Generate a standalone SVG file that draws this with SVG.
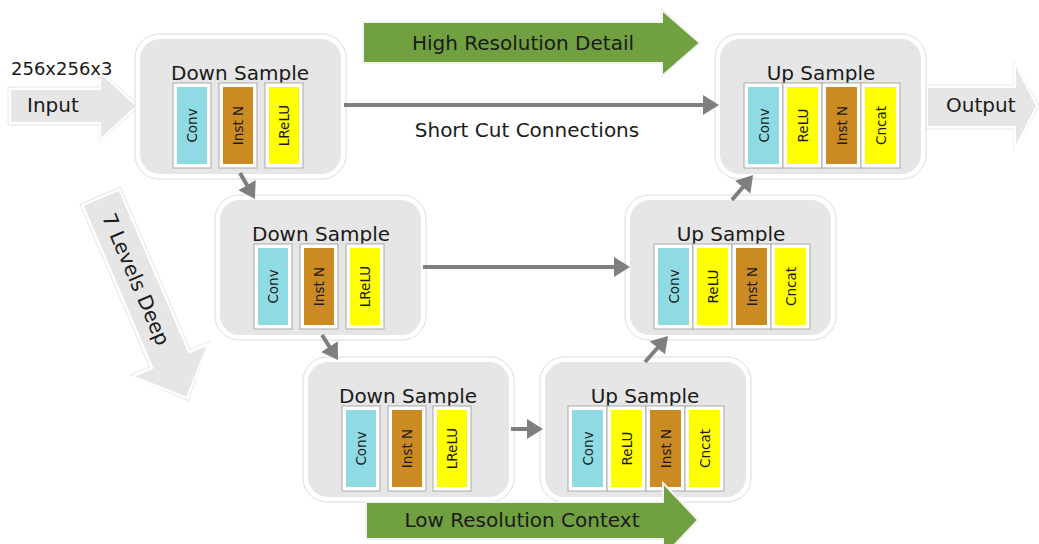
<svg xmlns="http://www.w3.org/2000/svg" width="1039" height="544" viewBox="0 0 1039 544">
<defs>
<style>
text{font-family:"DejaVu Sans","Liberation Sans",sans-serif;fill:#1a1a1a}
.big{font-size:20px}
.sm{font-size:13.5px;text-anchor:middle}
.mid{text-anchor:middle}
.box{fill:#e6e6e6;stroke:#ffffff;stroke-width:4}
.boxo{fill:none;stroke:#dcdcdc;stroke-width:1}
.frm{fill:#ffffff;stroke:#a9a9a9;stroke-width:1}
.conv{fill:#8fdbe3}
.inst{fill:#cc8a22}
.relu{fill:#ffff00}
.garr{fill:#70a040;stroke:#f2f2f2;stroke-width:2}
.larr{fill:#e6e6e6;stroke:#ffffff;stroke-width:2}
.larro{fill:none;stroke:#e6e6e6;stroke-width:1}
.con{stroke:#7f7f7f;stroke-width:4;fill:none;marker-end:url(#ah)}
</style>
<marker id="ah" markerWidth="4" markerHeight="5" refX="1.5" refY="2.5" orient="auto" markerUnits="strokeWidth">
<path d="M0,0 L4,2.5 L0,5 z" fill="#7f7f7f"/>
</marker>
</defs>
<rect width="1039" height="544" fill="#ffffff"/>

<!-- background block arrows -->
<g id="input-arrow">
<polygon class="larro" points="8,87 99,87 99,70 140,106 99,142 99,125 8,125"/>
<polygon class="larr" points="10,89 100,89 100,72 137,106 100,140 100,123 10,123"/>
<text class="big" x="27" y="112">Input</text>
<text x="11" y="75" style="font-size:18px">256x256x3</text>
</g>
<g id="output-arrow">
<polygon class="larro" points="925,85 1014,85 1014,61 1039,106 1014,151 1014,129 925,129"/>
<polygon class="larr" points="927,87 1015,87 1015,63 1037,106 1015,149 1015,127 927,127"/>
<text class="big" x="946" y="112">Output</text>
</g>
<g id="levels-arrow" transform="translate(101,197.5) rotate(66.8)">
<polygon class="larro" points="-2,-22 175,-22 175,-43 221,0 175,43 175,22 -2,22"/>
<polygon class="larr" points="0,-20 177,-20 177,-41 218,0 177,41 177,20 0,20"/>
<text class="big mid" x="89" y="7">7 Levels Deep</text>
</g>
<g id="high-res-arrow">
<polygon class="garr" points="363,22 662,22 662,10 700,43 662,76 662,63 363,63"/>
<text class="big mid" x="523" y="50">High Resolution Detail</text>
</g>

<!-- nodes -->
<g id="down1">
<rect class="boxo" x="135" y="34" width="211" height="145" rx="24"/>
<rect class="box" x="138" y="37" width="205" height="139" rx="22"/>
<text class="big mid" x="240" y="80">Down Sample</text>
<rect class="frm" x="173" y="83" width="38" height="85"/><rect class="conv" x="177" y="87" width="30" height="77"/>
<rect class="frm" x="219" y="83" width="38" height="85"/><rect class="inst" x="223" y="87" width="30" height="77"/>
<rect class="frm" x="265" y="83" width="38" height="85"/><rect class="relu" x="269" y="87" width="30" height="77"/>
<text class="sm" transform="translate(197,125.5) rotate(-90)">Conv</text>
<text class="sm" transform="translate(243,125.5) rotate(-90)">Inst N</text>
<text class="sm" transform="translate(289,125.5) rotate(-90)">LReLU</text>
</g>

<g id="down2">
<rect class="boxo" x="215" y="195" width="211" height="145" rx="24"/>
<rect class="box" x="218" y="198" width="205" height="139" rx="22"/>
<text class="big mid" x="321" y="241">Down Sample</text>
<rect class="frm" x="254" y="244" width="38" height="85"/><rect class="conv" x="258" y="248" width="30" height="77"/>
<rect class="frm" x="300" y="244" width="38" height="85"/><rect class="inst" x="304" y="248" width="30" height="77"/>
<rect class="frm" x="346" y="244" width="38" height="85"/><rect class="relu" x="350" y="248" width="30" height="77"/>
<text class="sm" transform="translate(278,286.5) rotate(-90)">Conv</text>
<text class="sm" transform="translate(324,286.5) rotate(-90)">Inst N</text>
<text class="sm" transform="translate(370,286.5) rotate(-90)">LReLU</text>
</g>

<g id="down3">
<rect class="boxo" x="303" y="357" width="211" height="145" rx="24"/>
<rect class="box" x="306" y="360" width="205" height="139" rx="22"/>
<text class="big mid" x="408" y="403">Down Sample</text>
<rect class="frm" x="342" y="406" width="38" height="85"/><rect class="conv" x="346" y="410" width="30" height="77"/>
<rect class="frm" x="388" y="406" width="38" height="85"/><rect class="inst" x="392" y="410" width="30" height="77"/>
<rect class="frm" x="433" y="406" width="38" height="85"/><rect class="relu" x="437" y="410" width="30" height="77"/>
<text class="sm" transform="translate(366,448.5) rotate(-90)">Conv</text>
<text class="sm" transform="translate(412,448.5) rotate(-90)">Inst N</text>
<text class="sm" transform="translate(457,448.5) rotate(-90)">LReLU</text>
</g>

<g id="up3">
<rect class="boxo" x="540" y="357" width="211" height="145" rx="24"/>
<rect class="box" x="543" y="360" width="205" height="139" rx="22"/>
<text class="big mid" x="645" y="403">Up Sample</text>
<rect class="frm" x="568" y="406" width="39" height="85"/><rect class="conv" x="572" y="410" width="31" height="77"/>
<rect class="frm" x="607" y="406" width="39" height="85"/><rect class="relu" x="611" y="410" width="31" height="77"/>
<rect class="frm" x="646" y="406" width="39" height="85"/><rect class="inst" x="650" y="410" width="31" height="77"/>
<rect class="frm" x="685" y="406" width="39" height="85"/><rect class="relu" x="689" y="410" width="31" height="77"/>
<text class="sm" transform="translate(592.5,448.5) rotate(-90)">Conv</text>
<text class="sm" transform="translate(631.5,448.5) rotate(-90)">ReLU</text>
<text class="sm" transform="translate(670.5,448.5) rotate(-90)">Inst N</text>
<text class="sm" transform="translate(709.5,448.5) rotate(-90)">Cncat</text>
</g>

<g id="up2">
<rect class="boxo" x="625" y="195" width="211" height="145" rx="24"/>
<rect class="box" x="628" y="198" width="205" height="139" rx="22"/>
<text class="big mid" x="731" y="241">Up Sample</text>
<rect class="frm" x="654" y="244" width="39" height="85"/><rect class="conv" x="658" y="248" width="31" height="77"/>
<rect class="frm" x="693" y="244" width="39" height="85"/><rect class="relu" x="697" y="248" width="31" height="77"/>
<rect class="frm" x="732" y="244" width="39" height="85"/><rect class="inst" x="736" y="248" width="31" height="77"/>
<rect class="frm" x="771" y="244" width="39" height="85"/><rect class="relu" x="775" y="248" width="31" height="77"/>
<text class="sm" transform="translate(678.5,286.5) rotate(-90)">Conv</text>
<text class="sm" transform="translate(717.5,286.5) rotate(-90)">ReLU</text>
<text class="sm" transform="translate(756.5,286.5) rotate(-90)">Inst N</text>
<text class="sm" transform="translate(795.5,286.5) rotate(-90)">Cncat</text>
</g>

<g id="up1">
<rect class="boxo" x="715" y="34" width="211" height="145" rx="24"/>
<rect class="box" x="718" y="37" width="205" height="139" rx="22"/>
<text class="big mid" x="821" y="80">Up Sample</text>
<rect class="frm" x="744" y="83" width="39" height="85"/><rect class="conv" x="748" y="87" width="31" height="77"/>
<rect class="frm" x="783" y="83" width="39" height="85"/><rect class="relu" x="787" y="87" width="31" height="77"/>
<rect class="frm" x="822" y="83" width="39" height="85"/><rect class="inst" x="826" y="87" width="31" height="77"/>
<rect class="frm" x="861" y="83" width="39" height="85"/><rect class="relu" x="865" y="87" width="31" height="77"/>
<text class="sm" transform="translate(768.5,125.5) rotate(-90)">Conv</text>
<text class="sm" transform="translate(807.5,125.5) rotate(-90)">ReLU</text>
<text class="sm" transform="translate(846.5,125.5) rotate(-90)">Inst N</text>
<text class="sm" transform="translate(885.5,125.5) rotate(-90)">Cncat</text>
</g>

<!-- connectors -->
<g id="connectors">
<line class="con" x1="344" y1="105" x2="709" y2="105"/>
<line class="con" x1="423" y1="267" x2="620" y2="267"/>
<line class="con" x1="511" y1="429" x2="533" y2="429"/>
<line class="con" x1="240" y1="173" x2="250" y2="190.3"/>
<line class="con" x1="322" y1="335" x2="332.6" y2="351.6"/>
<line class="con" x1="645" y1="362" x2="661.4" y2="343.5"/>
<line class="con" x1="732" y1="200" x2="746.6" y2="182.7"/>
</g>
<text class="big mid" x="527" y="137">Short Cut Connections</text>

<g id="low-res-arrow">
<polygon class="garr" points="366,502 663,502 663,483 698,520 663,557 663,539 366,539"/>
<text class="big mid" x="522" y="527">Low Resolution Context</text>
</g>
</svg>
